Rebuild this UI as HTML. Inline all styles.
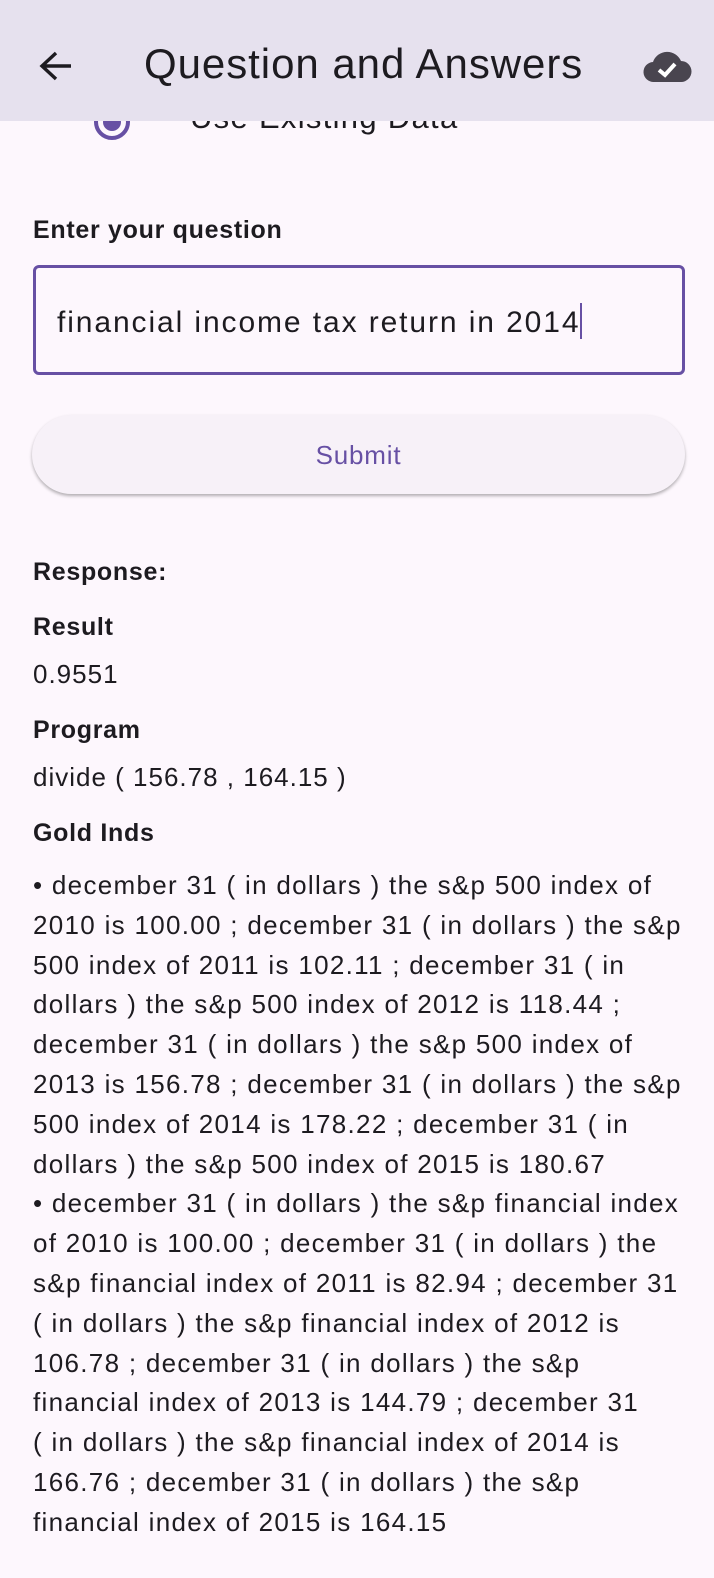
<!DOCTYPE html>
<html><head><meta charset="utf-8"><style>
*{margin:0;padding:0;box-sizing:border-box}
body{width:714px;height:1578px;background:#fdf7fd;font-family:"Liberation Sans",sans-serif;color:#1d1b20;position:relative;overflow:hidden}
.abs{position:absolute}
.hdr{left:0;top:0;width:714px;height:121px;background:#e6e1ee;z-index:2}
.lbl{left:33px;font-size:25px;font-weight:bold;line-height:30px;letter-spacing:0.7px}
.val{left:33px;font-size:26px;line-height:30px;letter-spacing:1px}
.gold{left:33px;top:866px;font-size:26px;line-height:39.8px;white-space:nowrap;letter-spacing:1.3px}
</style></head><body>
<div class="abs hdr">
 <svg class="abs" style="left:38px;top:50px" width="36" height="32" viewBox="0 0 36 32"><path d="M18 3 L4 16 L18 29 M4 16 H33" stroke="#1d1b20" stroke-width="3.4" fill="none"/></svg>
 <div class="abs" style="left:144px;top:39px;font-size:42px;line-height:50px;letter-spacing:0.95px">Question and Answers</div>
 <svg class="abs" style="left:642px;top:48px" width="50" height="36" viewBox="0 0 50 36"><path d="M12 34 A10 10 0 0 1 11 14 A15 15 0 0 1 39 13 A10.5 10.5 0 0 1 39 34 Z" fill="#49454f"/><path d="M17 22 L23 27 L33 16" stroke="#fff" stroke-width="4" fill="none"/></svg>
</div>
<div class="abs" style="left:94px;top:104px;width:36px;height:36px;border:4px solid #6750a4;border-radius:50%;z-index:1"><div style="margin:5px;width:18px;height:18px;border-radius:50%;background:#6750a4"></div></div>
<div class="abs" style="left:190px;top:100px;font-size:31px;letter-spacing:1.3px;z-index:1">Use Existing Data</div>
<div class="abs lbl" style="top:215px">Enter your question</div>
<div class="abs" style="left:33px;top:265px;width:652px;height:110px;border:3px solid #6750a4;border-radius:6px">
 <div class="abs" style="left:21px;top:35px;font-size:30px;line-height:34px;letter-spacing:1.9px">financial income tax return in 2014<span style="display:inline-block;width:2px;height:36px;background:#6750a4;vertical-align:-7px"></span></div>
</div>
<div class="abs" style="left:32px;top:415px;width:653px;height:79px;border-radius:40px;background:#f7f1f8;box-shadow:0 2px 3px rgba(0,0,0,0.3);text-align:center;line-height:80px;font-size:26px;letter-spacing:0.8px;color:#6750a4">Submit</div>
<div class="abs lbl" style="top:557px">Response:</div>
<div class="abs lbl" style="top:612px">Result</div>
<div class="abs val" style="top:659px">0.9551</div>
<div class="abs lbl" style="top:715px">Program</div>
<div class="abs val" style="top:762px">divide ( 156.78 , 164.15 )</div>
<div class="abs lbl" style="top:818px">Gold Inds</div>
<div class="abs gold">• december 31 ( in dollars ) the s&amp;p 500 index of<br>2010 is 100.00 ; december 31 ( in dollars ) the s&amp;p<br>500 index of 2011 is 102.11 ; december 31 ( in<br>dollars ) the s&amp;p 500 index of 2012 is 118.44 ;<br>december 31 ( in dollars ) the s&amp;p 500 index of<br>2013 is 156.78 ; december 31 ( in dollars ) the s&amp;p<br>500 index of 2014 is 178.22 ; december 31 ( in<br>dollars ) the s&amp;p 500 index of 2015 is 180.67<br>• december 31 ( in dollars ) the s&amp;p financial index<br>of 2010 is 100.00 ; december 31 ( in dollars ) the<br>s&amp;p financial index of 2011 is 82.94 ; december 31<br>( in dollars ) the s&amp;p financial index of 2012 is<br>106.78 ; december 31 ( in dollars ) the s&amp;p<br>financial index of 2013 is 144.79 ; december 31<br>( in dollars ) the s&amp;p financial index of 2014 is<br>166.76 ; december 31 ( in dollars ) the s&amp;p<br>financial index of 2015 is 164.15</div>
</body></html>
